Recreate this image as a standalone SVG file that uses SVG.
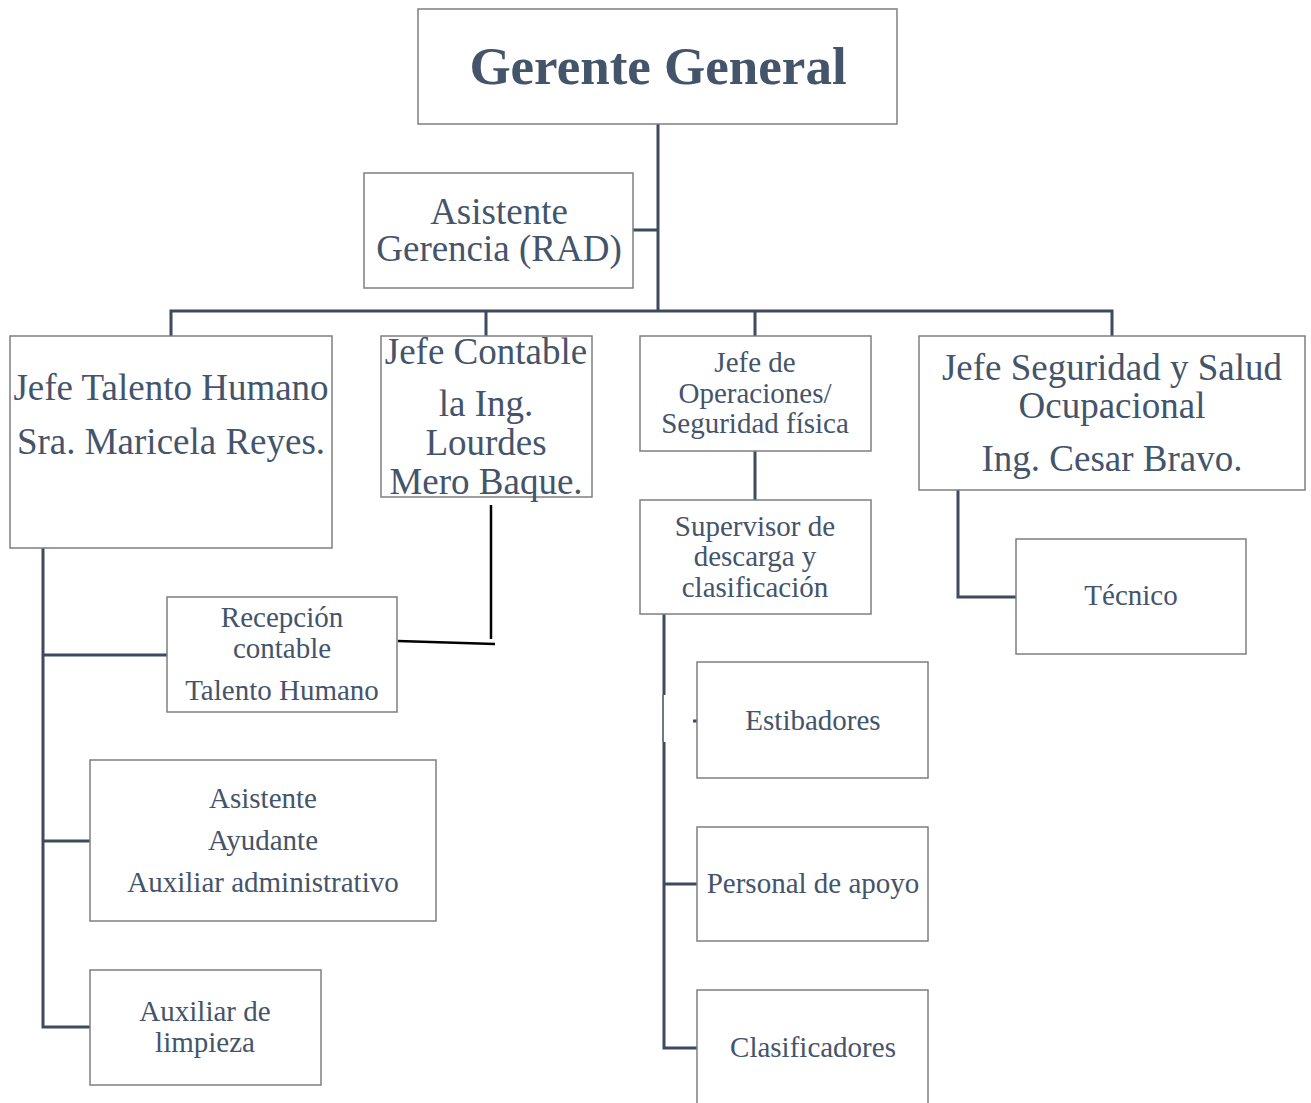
<svg xmlns="http://www.w3.org/2000/svg" width="1311" height="1103" viewBox="0 0 1311 1103">
<style>
.box{fill:#fff;stroke:#7f7f7f;stroke-width:1.5}
.t{font-family:"Liberation Serif","Times New Roman",serif;fill:#44546a;text-anchor:middle}
.L{font-size:37px}
.S{font-size:29px}
.B{font-size:53px;font-weight:bold}
.c{fill:none;stroke:#3e4b5f;stroke-width:3}
.k{fill:none;stroke:#000;stroke-width:2.5}
</style>
<rect width="1311" height="1103" fill="#fff"/>
<g id="connectors">
<path class="c" d="M658 124V311M633 230H658M171 336V311H1112V336M486 311V336M755 311V336"/>
<path class="c" d="M755 451V500"/>
<path class="c" d="M958 490V597H1016"/>
<path class="c" d="M43 548V1027H90M43 655H167M43 841H90"/>
<path class="c" d="M664 614V695M664 742V1048H697M664 884H697M693 721H697"/>
<path fill="none" stroke="#3e4b5f" stroke-width="1.5" d="M663 695V742"/>
<path class="k" d="M491 505V639M398 641L495 644"/>
</g>
<g id="gerente"><rect class="box" x="418" y="9" width="479" height="115"/><text class="t B" x="658" y="84">Gerente General</text></g>
<g id="asistente-gerencia"><rect class="box" x="364" y="173" width="269" height="115"/><text class="t L" x="499" y="224">Asistente</text><text class="t L" x="499" y="261">Gerencia (RAD)</text></g>
<g id="jefe-talento"><rect class="box" x="10" y="336" width="322" height="212"/><text class="t L" x="171" y="400">Jefe Talento Humano</text><text class="t L" x="171" y="454">Sra. Maricela Reyes.</text></g>
<g id="jefe-contable"><rect class="box" x="381" y="336" width="211" height="161"/><text class="t L" x="486" y="364">Jefe Contable</text><text class="t L" x="486" y="416">la Ing.</text><text class="t L" x="486" y="455">Lourdes</text><text class="t L" x="486" y="494">Mero Baque.</text></g>
<g id="jefe-operaciones"><rect class="box" x="640" y="336" width="231" height="115"/><text class="t S" x="755" y="372">Jefe de</text><text class="t S" x="755" y="403">Operaciones/</text><text class="t S" x="755" y="433">Seguridad física</text></g>
<g id="jefe-seguridad"><rect class="box" x="919" y="336" width="386" height="154"/><text class="t L" x="1112" y="380">Jefe Seguridad y Salud</text><text class="t L" x="1112" y="418">Ocupacional</text><text class="t L" x="1112" y="471">Ing. Cesar Bravo.</text></g>
<g id="supervisor"><rect class="box" x="640" y="500" width="231" height="114"/><text class="t S" x="755" y="536">Supervisor de</text><text class="t S" x="755" y="566">descarga y</text><text class="t S" x="755" y="597">clasificación</text></g>
<g id="tecnico"><rect class="box" x="1016" y="539" width="230" height="115"/><text class="t S" x="1131" y="605">Técnico</text></g>
<g id="recepcion"><rect class="box" x="167" y="597" width="230" height="115"/><text class="t S" x="282" y="627">Recepción</text><text class="t S" x="282" y="658">contable</text><text class="t S" x="282" y="700">Talento Humano</text></g>
<g id="asistente"><rect class="box" x="90" y="760" width="346" height="161"/><text class="t S" x="263" y="808">Asistente</text><text class="t S" x="263" y="850">Ayudante</text><text class="t S" x="263" y="892">Auxiliar administrativo</text></g>
<g id="auxiliar-limpieza"><rect class="box" x="90" y="970" width="231" height="115"/><text class="t S" x="205" y="1021">Auxiliar de</text><text class="t S" x="205" y="1052">limpieza</text></g>
<g id="estibadores"><rect class="box" x="697" y="662" width="231" height="116"/><text class="t S" x="813" y="730">Estibadores</text></g>
<g id="personal-apoyo"><rect class="box" x="697" y="827" width="231" height="114"/><text class="t S" x="813" y="893">Personal de apoyo</text></g>
<g id="clasificadores"><rect class="box" x="697" y="990" width="231" height="125"/><text class="t S" x="813" y="1057">Clasificadores</text></g>
</svg>
